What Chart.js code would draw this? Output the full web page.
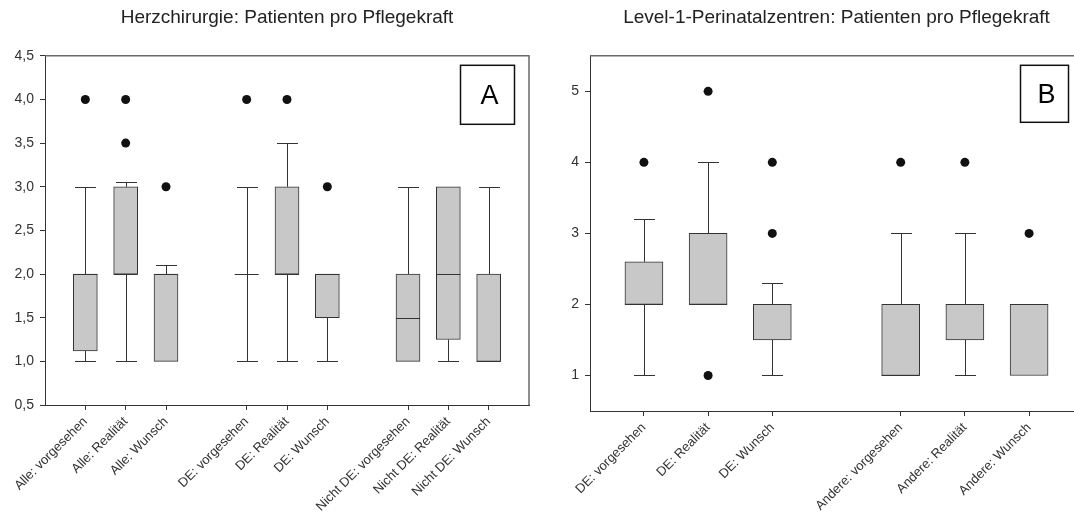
<!DOCTYPE html>
<html>
<head>
<meta charset="utf-8">
<script src="https://cdn.jsdelivr.net/npm/chart.js@4.4.0/dist/chart.umd.min.js"></script>
<style>
  html, body { margin: 0; padding: 0; background: #fff; overflow: hidden; }
  #chartA { position: absolute; left: 0; top: 0; }
  #chartB { position: absolute; left: 540px; top: 0; }
</style>
</head>
<body>
<canvas id="chartA" width="540" height="515"></canvas>
<canvas id="chartB" width="560" height="515"></canvas>
<script>
// --- Panel A: Herzchirurgie ---
const titleA = "Herzchirurgie: Patienten pro Pflegekraft";
const groupsA = [
  ["Alle: vorgesehen", "Alle: Realität", "Alle: Wunsch"],
  ["DE: vorgesehen", "DE: Realität", "DE: Wunsch"],
  ["Nicht DE: vorgesehen", "Nicht DE: Realität", "Nicht DE: Wunsch"]
];
const lowA    = [1,    1,    1,   1, 1,   1,   1,   1,    1];
const q1A     = [1.12, 2,    1,   2, 2,   1.5, 1,   1.25, 1];
const medianA = [2,    2,    2,   2, 2,   2,   1.5, 2,    1];
const q3A     = [2,    3,    2,   2, 3,   2,   2,   3,    2];
const highA   = [3,    3.05, 2.1, 3, 3.5, 2,   3,   3,    3];
const outliersA = [[4], [4, 3.5], [3], [4], [4], [3], [], [], []];
const yTicksA = [0.5, 1, 1.5, 2, 2.5, 3, 3.5, 4, 4.5];

// --- Panel B: Level-1-Perinatalzentren ---
const titleB = "Level-1-Perinatalzentren: Patienten pro Pflegekraft";
const groupsB = [
  ["DE: vorgesehen", "DE: Realität", "DE: Wunsch"],
  ["Andere: vorgesehen", "Andere: Realität", "Andere: Wunsch"]
];
const lowB    = [1,   2, 1,   1, 1,   1];
const q1B     = [2,   2, 1.5, 1, 1.5, 1];
const medianB = [2,   2, 2,   1, 2,   2];
const q3B     = [2.6, 3, 2,   2, 2,   2];
const highB   = [3.2, 4, 2.3, 3, 3,   2];
const outliersB = [[4], [5, 1], [4, 3], [4], [4], [3]];
const yTicksB = [1, 2, 3, 4, 5];

const FONT = 'Arial, "Liberation Sans", sans-serif';
const LINE = '#333';

// slot positions: one empty slot between groups
function layoutSlots(groups) {
  const xs = [], labels = [];
  groups.forEach((g, gi) => g.forEach((name, i) => {
    xs.push(gi * (g.length + 1) + i + 1);
    labels.push(name);
  }));
  return { xs, labels };
}

const boxExtras = {
  id: 'boxExtras',
  beforeDatasetsDraw(chart, args, o) {
    const { ctx, scales: { x, y } } = chart;
    const half = o.capWidth / 2;
    ctx.save();
    ctx.strokeStyle = LINE;
    ctx.lineWidth = 1;
    o.xs.forEach((xv, i) => {
      const px = Math.round(x.getPixelForValue(xv)) + 0.5;
      const pLow = Math.round(y.getPixelForValue(o.low[i])) + 0.5;
      const pQ1 = y.getPixelForValue(o.q1[i]);
      const pQ3 = y.getPixelForValue(o.q3[i]);
      const pHigh = Math.round(y.getPixelForValue(o.high[i])) + 0.5;
      ctx.beginPath();
      if (o.low[i] < o.q1[i]) {
        ctx.moveTo(px, pQ1); ctx.lineTo(px, pLow);
        ctx.moveTo(px - half, pLow); ctx.lineTo(px + half, pLow);
      }
      if (o.high[i] > o.q3[i]) {
        ctx.moveTo(px, pQ3); ctx.lineTo(px, pHigh);
        ctx.moveTo(px - half, pHigh); ctx.lineTo(px + half, pHigh);
      }
      ctx.stroke();
    });
    ctx.restore();
  },
  afterDatasetsDraw(chart, args, o) {
    const { ctx, chartArea: a, scales: { x, y } } = chart;
    ctx.save();
    // medians
    ctx.strokeStyle = LINE;
    ctx.lineWidth = 1;
    ctx.beginPath();
    o.xs.forEach((xv, i) => {
      const px = x.getPixelForValue(xv);
      const pm = Math.round(y.getPixelForValue(o.median[i])) + 0.5;
      ctx.moveTo(px - o.boxWidth / 2, pm);
      ctx.lineTo(px + o.boxWidth / 2, pm);
    });
    ctx.stroke();
    // frame top + right
    ctx.strokeStyle = '#6a6a6a';
    ctx.lineWidth = 1.5;
    ctx.beginPath();
    ctx.moveTo(a.left, a.top); ctx.lineTo(a.right, a.top); ctx.lineTo(a.right, a.bottom);
    ctx.stroke();
    // panel letter
    const bx = a.right - 14.5 - o.panelW, by = a.top + 9.5;
    ctx.fillStyle = '#fff';
    ctx.fillRect(bx, by, o.panelW, o.panelH);
    ctx.strokeStyle = '#111';
    ctx.lineWidth = 1.5;
    ctx.strokeRect(bx, by, o.panelW, o.panelH);
    ctx.fillStyle = '#000';
    ctx.font = '27px ' + FONT;
    ctx.textAlign = 'center';
    ctx.textBaseline = 'middle';
    ctx.fillText(o.panel, bx + o.panelW / 2 + 2, by + o.panelH / 2 + 2);
    ctx.restore();
  }
};

function makeBoxChart(id, p) {
  const { xs, labels } = layoutSlots(p.groups);
  const stats = { low: p.low, q1: p.q1, median: p.median, q3: p.q3, high: p.high };
  new Chart(document.getElementById(id), {
    type: 'scatter',
    data: {
      datasets: [
        {
          type: 'bar',
          data: xs.map((v, i) => ({ x: v, y: [p.q1[i], p.q3[i]] })),
          backgroundColor: '#c8c8c8',
          borderColor: LINE,
          borderWidth: 1,
          borderSkipped: false,
          barThickness: p.boxWidth,
          order: 2
        },
        {
          type: 'scatter',
          data: p.outliers.flatMap((vals, i) => vals.map(v => ({ x: xs[i], y: v }))),
          pointRadius: 4.5,
          pointBackgroundColor: '#111',
          pointBorderWidth: 0,
          order: 1
        }
      ]
    },
    options: {
      responsive: false,
      animation: false,
      layout: { padding: { right: p.padRight } },
      plugins: {
        legend: { display: false },
        tooltip: { enabled: false },
        title: {
          display: true,
          text: p.title,
          fullSize: false,
          color: '#222',
          font: { family: FONT, size: 19, weight: 'normal' },
          padding: { top: 6, bottom: 27 }
        },
        boxExtras: Object.assign({
          xs, boxWidth: p.boxWidth, capWidth: 21,
          panel: p.panel, panelW: p.panelW, panelH: p.panelH
        }, stats)
      },
      scales: {
        x: {
          type: 'linear',
          offset: false,
          min: p.xMin, max: p.xMax,
          afterBuildTicks: s => { s.ticks = xs.map(v => ({ value: v })); },
          afterFit: s => { s.height = p.xAxisHeight; },
          ticks: {
            autoSkip: false, minRotation: 45, maxRotation: 45, padding: 4,
            color: '#333', font: { family: FONT, size: 13 },
            callback: (v, i) => labels[i]
          },
          grid: { offset: false, drawOnChartArea: false, drawTicks: true, tickLength: 5, color: LINE },
          border: { color: LINE, width: 1 }
        },
        y: {
          min: p.yMin, max: p.yMax,
          afterBuildTicks: s => { s.ticks = p.yTicks.map(v => ({ value: v })); },
          afterFit: s => { s.width = p.yAxisWidth; },
          ticks: {
            padding: 6, color: '#333', font: { family: FONT, size: 14 },
            callback: p.tickFormat
          },
          grid: { drawOnChartArea: false, drawTicks: true, tickLength: 5, color: LINE },
          border: { color: LINE, width: 1 }
        }
      }
    },
    plugins: [boxExtras]
  });
}

makeBoxChart('chartA', {
  title: titleA, groups: groupsA,
  low: lowA, q1: q1A, median: medianA, q3: q3A, high: highA, outliers: outliersA,
  yTicks: yTicksA, yMin: 0.5, yMax: 4.5,
  tickFormat: v => v.toFixed(1).replace('.', ','),
  xMin: 0, xMax: 12, boxWidth: 24,
  yAxisWidth: 45, xAxisHeight: 110, padRight: 11,
  panel: 'A', panelW: 54, panelH: 59
});

makeBoxChart('chartB', {
  title: titleB, groups: groupsB,
  low: lowB, q1: q1B, median: medianB, q3: q3B, high: highB, outliers: outliersB,
  yTicks: yTicksB, yMin: 0.5, yMax: 5.5,
  tickFormat: v => String(v),
  xMin: 0.16, xMax: 7.84, boxWidth: 38,
  yAxisWidth: 50, xAxisHeight: 104, padRight: 17,
  panel: 'B', panelW: 48, panelH: 57
});
</script>
</body>
</html>
